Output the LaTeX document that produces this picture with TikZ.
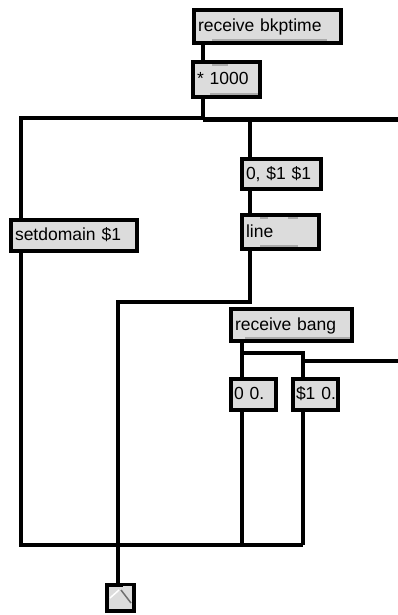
\documentclass[tikz,border=0pt]{standalone}
\usepackage{fontspec}
\setmainfont{Liberation Sans}
\definecolor{boxfill}{RGB}{220,220,220}
\definecolor{tabc}{RGB}{170,170,170}
\definecolor{bangline}{RGB}{110,110,110}
\begin{document}
\begin{tikzpicture}[x=1pt,y=-1pt,
  box/.style={draw=black, line width=4pt, fill=boxfill, inner xsep=4pt, inner ysep=0pt,
    font=\fontsize{17.5}{20}\selectfont, text height=13pt, text depth=3pt, align=left},
  wire/.style={line width=4pt, line join=miter, line cap=butt},
  tabf/.style={fill=tabc}]
\useasboundingbox (0,0) rectangle (398,615);
% columns and rows
\coordinate (c1) at (21,0);
\coordinate (c2) at (118,0);
\coordinate (c3) at (203,0);
\coordinate (c4) at (250,0);
\coordinate (c5) at (242,0);
\coordinate (c6) at (303,0);
\coordinate (c7) at (398,0);
\coordinate (r1) at (0,118);
\coordinate (r1b) at (0,119.5);
\coordinate (r2) at (0,302);
\coordinate (r3) at (0,353);
\coordinate (r4) at (0,361);
\coordinate (r5) at (0,545);
% boxes
\node[box, minimum width=147pt, minimum height=33pt, text width=139pt] (bk) at (267.5,26.5) {receive bkptime};
\node[box, minimum width=67pt, minimum height=35pt, text width=59pt] (mul) at (226.5,79.5) {* 1000};
\node[box, minimum width=79pt, minimum height=30pt, text width=71pt] (zero) at (281.5,174) {0, \$1 \$1};
\node[box, minimum width=77pt, minimum height=34pt, text width=69pt] (line) at (280.5,232) {line};
\node[box, minimum width=126pt, minimum height=31pt, text width=118pt] (setd) at (74,235.5) {setdomain \$1};
\node[box, minimum width=121pt, minimum height=32pt, text width=113pt] (rb) at (291.5,325) {receive bang};
\node[box, minimum width=45pt, minimum height=31pt, inner xsep=3pt, text width=39pt] (oo) at (253.5,394.5) {\mbox{0 0.}};
\node[box, minimum width=45pt, minimum height=31pt, inner xsep=3pt, text width=39pt] (so) at (315.5,394.5) {\mbox{\$1 0.}};
\node[box, minimum width=27pt, minimum height=26pt, inner xsep=0pt] (bang) at (120.5,598) {};
% tabs
\fill[tabf] (212,39) rectangle (327,41);
\fill[tabf] (212,64) rectangle (228,66);
\fill[tabf] (210,93) rectangle (258,95);
\fill[tabf] (260,217) rectangle (268,219);
\fill[tabf] (288,217) rectangle (298,219);
\fill[tabf] (260,245) rectangle (298,247);
\fill[tabf] (245,337) rectangle (350,339);
% bang glyph
\fill[boxfill] (123,585.5) rectangle (132,588);
\draw[white, line width=1.5pt] (110,598) -- (119,590);
\draw[bangline, line width=1.5pt] (121,590) -- (131,603);
% wires
\draw[wire] (bk.south -| c3) -- (mul.north -| c3);
\draw[wire] (mul.south -| c3) -- (c3 |- r1) -- (c1 |- r1) -- (setd.north -| c1);
\draw[wire] (c3 |- r1b) -- (c4 |- r1b) -- (zero.north -| c4);
\draw[wire] (c4 |- r1b) -- (c7 |- r1b);
\draw[wire] (zero.south -| c4) -- (line.north -| c4);
\draw[wire] (line.south -| c4) -- (c4 |- r2) -- (c2 |- r2) -- (bang.north -| c2);
\draw[wire] (setd.south -| c1) -- (c1 |- r5) -- (c6 |- r5);
\draw[wire] (rb.south -| c5) -- (oo.north -| c5);
\draw[wire] (c5 |- r3) -- (c6 |- r3) -- (so.north -| c6);
\draw[wire] (c6 |- r4) -- (c7 |- r4);
\draw[wire] (oo.south -| c5) -- (c5 |- r5);
\draw[wire] (so.south -| c6) -- (c6 |- r5);
\end{tikzpicture}
\end{document}
